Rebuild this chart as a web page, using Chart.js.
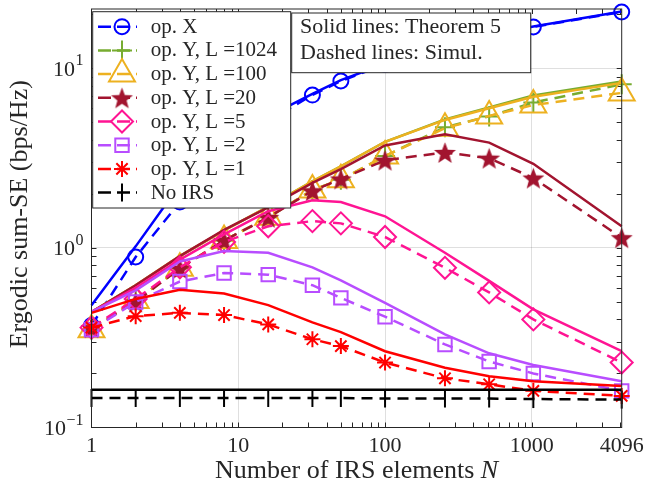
<!DOCTYPE html>
<html>
<head>
<meta charset="utf-8">
<script src="https://cdn.jsdelivr.net/npm/chart.js@4.4.1/dist/chart.umd.min.js"></script>
<style>
  html, body { margin: 0; padding: 0; background: #fff; }
</style>
</head>
<body>
<canvas id="sumSE" width="645" height="493"></canvas>
<script>
// Number of IRS elements N (x axis)
const irsElements = [1, 2, 4, 8, 16, 32, 50, 100, 256, 512, 1024, 4096];

// Solid lines: Theorem 5
const opXTheory   = [0.48, 1.02, 2.25, 3.8, 5.4, 7.2, 8.6, 10.6, 13.4, 15.3, 17.1, 20.7];
const l1024Theory = [0.44, 0.62, 0.9, 1.25, 1.7, 2.35, 2.85, 3.9, 5.2, 6.05, 7.05, 8.45];
const l100Theory  = [0.44, 0.62, 0.9, 1.25, 1.7, 2.35, 2.85, 3.9, 5.16, 6.0, 6.95, 8.3];
const l20Theory   = [0.44, 0.62, 0.9, 1.26, 1.68, 2.3, 2.75, 3.72, 4.3, 3.86, 2.94, 1.32];
const l5Theory    = [0.44, 0.6, 0.86, 1.19, 1.6, 1.84, 1.8, 1.5, 0.94, 0.655, 0.455, 0.266];
const l2Theory    = [0.44, 0.58, 0.84, 0.96, 0.94, 0.78, 0.66, 0.495, 0.33, 0.259, 0.223, 0.181];
const l1Theory    = [0.435, 0.52, 0.585, 0.557, 0.48, 0.385, 0.34, 0.266, 0.215, 0.193, 0.181, 0.17];
const noIrsTheory = [0.162, 0.162, 0.162, 0.162, 0.162, 0.162, 0.162, 0.162, 0.162, 0.162, 0.162, 0.162];

// Dashed lines: simulation
const opXSim   = [0.37, 0.89, 1.8, 3.4, 5.1, 7.1, 8.5, 10.5, 13.3, 15.2, 17.0, 20.6];
const l1024Sim = [0.35, 0.51, 0.77, 1.1, 1.48, 2.1, 2.4, 3.25, 4.7, 5.4, 6.45, 8.15];
const l100Sim  = [0.35, 0.51, 0.77, 1.1, 1.48, 2.1, 2.4, 3.25, 4.64, 5.43, 6.25, 7.3];
const l20Sim   = [0.36, 0.5, 0.77, 1.1, 1.48, 2.08, 2.42, 3.08, 3.4, 3.16, 2.45, 1.14];
const l5Sim    = [0.36, 0.52, 0.78, 1.08, 1.32, 1.41, 1.37, 1.15, 0.775, 0.565, 0.4, 0.23];
const l2Sim    = [0.35, 0.5, 0.65, 0.725, 0.71, 0.62, 0.527, 0.414, 0.29, 0.233, 0.2, 0.16];
const l1Sim    = [0.36, 0.417, 0.435, 0.423, 0.375, 0.31, 0.284, 0.23, 0.188, 0.174, 0.16, 0.15];
const noIrsSim = [0.146, 0.146, 0.146, 0.146, 0.146, 0.146, 0.146, 0.145, 0.145, 0.145, 0.144, 0.143];

const seriesLabels = ['op. X', 'op. Y, L =1024', 'op. Y, L =100', 'op. Y, L =20',
                      'op. Y, L =5', 'op. Y, L =2', 'op. Y, L =1', 'No IRS'];
const theoryValues = [opXTheory, l1024Theory, l100Theory, l20Theory, l5Theory, l2Theory, l1Theory, noIrsTheory];
const simValues    = [opXSim, l1024Sim, l100Sim, l20Sim, l5Sim, l2Sim, l1Sim, noIrsSim];

// Tick labels
const xTickValues = [1, 10, 100, 1000, 4096];
const yTickValues = [0.1, 1, 10];
const yTickExponents = ['\u22121', '0', '1'];

const FONT = "'Liberation Serif', 'Times New Roman', serif";
const AXIS = '#262626';
const GRID = 'rgba(38,38,38,0.15)';
const Y_MAX = 21.4;
const TICK = 5;

// filled five-point star marker (MATLAB pentagram)
function pentagram(r, color) {
    const c = document.createElement('canvas');
    const s = Math.ceil(2 * r + 4);
    c.width = c.height = s;
    const g = c.getContext('2d');
    g.translate(s / 2, s / 2 + r * 0.1);
    g.beginPath();
    for (let i = 0; i < 10; i++) {
        const rr = i % 2 ? r * 0.42 : r;
        const a = -Math.PI / 2 + i * Math.PI / 5;
        g.lineTo(rr * Math.cos(a), rr * Math.sin(a));
    }
    g.closePath();
    g.fillStyle = color;
    g.fill();
    return c;
}

// one style per series: colour and marker
const seriesStyles = [
    { color: '#0000FF', pointStyle: 'circle', radius: 7.5 },
    { color: '#77AC30', pointStyle: 'cross', radius: 10 },
    { color: '#EDB120', pointStyle: 'triangle', radius: 15 },
    { color: '#A2142F', pointStyle: pentagram(11.5, '#A2142F'), radius: 11 },
    { color: '#FF1493', pointStyle: 'rectRot', radius: 11 },
    { color: '#B84DFF', pointStyle: 'rect', radius: 9.5 },
    { color: '#FF0000', pointStyle: 'star', radius: 8 },
    { color: '#000000', pointStyle: 'line', radius: 9, rotation: 90 }
];

const datasets = [];
const total = seriesLabels.length * 2;
seriesLabels.forEach((label, i) => {
    const st = seriesStyles[i];
    datasets.push({
        label: label + ' (Theorem 5)',
        data: irsElements.map((n, k) => ({ x: n, y: theoryValues[i][k] })),
        borderColor: st.color,
        borderWidth: 2.5,
        pointRadius: 0,
        tension: 0,
        fill: false,
        clip: false,
        order: total - 2 * i
    });
    datasets.push({
        label: label + ' (Simul.)',
        data: irsElements.map((n, k) => ({ x: n, y: simValues[i][k] })),
        borderColor: st.color,
        borderWidth: 2.5,
        borderDash: [11, 7],
        pointStyle: st.pointStyle,
        pointRadius: st.radius,
        pointRotation: st.rotation || 0,
        pointBorderWidth: 2,
        pointBorderColor: st.color,
        pointBackgroundColor: 'rgba(0,0,0,0)',
        tension: 0,
        fill: false,
        clip: false,
        order: total - 2 * i - 1
    });
});

// tick mark positions for log axes (1..9 in every decade)
function logMarks(min, max) {
    const out = [];
    for (let d = Math.pow(10, Math.floor(Math.log10(min))); d <= max; d *= 10) {
        for (let k = 1; k < 10; k++) {
            const v = +(k * d).toPrecision(4);
            if (v > min && v < max) out.push(v);
        }
    }
    return out;
}

const framePlugin = {
    id: 'frame',
    beforeDatasetsDraw(chart) {
        const { ctx, chartArea: a, scales: { x, y } } = chart;
        ctx.save();
        ctx.strokeStyle = AXIS;
        ctx.lineWidth = 1;
        ctx.beginPath();
        logMarks(1, 4096).forEach(v => {
            const px = Math.round(x.getPixelForValue(v)) + 0.5;
            ctx.moveTo(px, a.bottom); ctx.lineTo(px, a.bottom - TICK);
            ctx.moveTo(px, a.top); ctx.lineTo(px, a.top + TICK);
        });
        logMarks(0.1, Y_MAX).forEach(v => {
            const py = Math.round(y.getPixelForValue(v)) + 0.5;
            ctx.moveTo(a.left, py); ctx.lineTo(a.left + TICK, py);
            ctx.moveTo(a.right, py); ctx.lineTo(a.right - TICK, py);
        });
        ctx.stroke();
        ctx.restore();
    },
    afterDraw(chart) {
        const { ctx, chartArea: a, scales: { y } } = chart;
        const H = Chart.helpers;
        ctx.save();

        // axes box
        ctx.strokeStyle = AXIS;
        ctx.lineWidth = 1;
        ctx.strokeRect(a.left, a.top, a.right - a.left, a.bottom - a.top);

        // y tick labels 10^k
        ctx.fillStyle = AXIS;
        ctx.textAlign = 'right';
        ctx.textBaseline = 'alphabetic';
        yTickValues.forEach((v, i) => {
            const py = y.getPixelForValue(v);
            const e = yTickExponents[i];
            ctx.font = '16px ' + FONT;
            ctx.fillText(e, a.left - 8, py - 3);
            const w = ctx.measureText(e).width;
            ctx.font = '22px ' + FONT;
            ctx.fillText('10', a.left - 8.5 - w, py + 7.5);
        });

        // x axis title with italic N
        const t1 = 'Number of IRS elements ', t2 = 'N';
        ctx.font = '26px ' + FONT;
        const w1 = ctx.measureText(t1).width;
        ctx.font = 'italic 26px ' + FONT;
        const w2 = ctx.measureText(t2).width;
        const x0 = (a.left + a.right) / 2 - (w1 + w2) / 2;
        ctx.textAlign = 'left';
        ctx.font = '26px ' + FONT;
        ctx.fillText(t1, x0, 478);
        ctx.font = 'italic 26px ' + FONT;
        ctx.fillText(t2, x0 + w1, 478);

        // y axis title
        ctx.save();
        ctx.translate(27, (a.top + a.bottom) / 2 - 4);
        ctx.rotate(-Math.PI / 2);
        ctx.textAlign = 'center';
        ctx.font = '26px ' + FONT;
        ctx.fillText('Ergodic sum-SE (bps/Hz)', 0, 0);
        ctx.restore();

        // legend
        const lx = 92.7, ly = 11.7, lw = 198, lh = 196.3, row = 23.7;
        ctx.fillStyle = '#fff';
        ctx.fillRect(lx, ly, lw, lh);
        ctx.strokeStyle = AXIS;
        ctx.lineWidth = 1;
        ctx.strokeRect(lx, ly, lw, lh);
        seriesLabels.forEach((label, i) => {
            const st = seriesStyles[i];
            const cy = 26.7 + i * row;
            ctx.strokeStyle = st.color;
            ctx.lineWidth = 2.5;
            ctx.setLineDash([13, 6]);
            ctx.beginPath();
            ctx.moveTo(98, cy);
            ctx.lineTo(137, cy);
            ctx.stroke();
            ctx.setLineDash([]);
            ctx.lineWidth = 2;
            ctx.fillStyle = 'rgba(0,0,0,0)';
            H.drawPoint(ctx, {
                pointStyle: st.pointStyle,
                radius: st.radius,
                rotation: st.rotation || 0,
                borderWidth: 2
            }, 122, cy);
            ctx.fillStyle = AXIS;
            ctx.font = '21px ' + FONT;
            ctx.textAlign = 'left';
            ctx.fillText(label, 150.7, cy + 6);
        });

        // note box
        ctx.fillStyle = '#fff';
        ctx.fillRect(291.7, 13, 239, 59.7);
        ctx.strokeStyle = AXIS;
        ctx.lineWidth = 1;
        ctx.strokeRect(291.7, 13, 239, 59.7);
        ctx.fillStyle = AXIS;
        ctx.font = '22px ' + FONT;
        ctx.fillText('Solid lines: Theorem 5', 300, 33.3);
        ctx.fillText('Dashed lines: Simul.', 300, 59.3);

        ctx.restore();
    }
};

new Chart(document.getElementById('sumSE'), {
    type: 'line',
    data: { datasets },
    options: {
        responsive: false,
        animation: false,
        devicePixelRatio: 1,
        events: [],
        layout: { autoPadding: false, padding: { top: 9, right: 23.3, left: 0, bottom: 0 } },
        plugins: { legend: { display: false }, tooltip: { enabled: false } },
        scales: {
            x: {
                type: 'logarithmic',
                min: 1,
                max: 4096,
                afterBuildTicks: s => { s.ticks = xTickValues.map(v => ({ value: v })); },
                afterFit: s => { s.height = 65.5; s.paddingLeft = 0; s.paddingRight = 0; },
                ticks: {
                    callback: v => String(v),
                    autoSkip: false,
                    maxRotation: 0,
                    padding: 8,
                    color: AXIS,
                    font: { family: FONT, size: 22, lineHeight: 1 }
                },
                grid: {
                    drawTicks: false,
                    color: c => (c.tick && c.tick.value > 1 && c.tick.value < 4096) ? GRID : 'rgba(0,0,0,0)'
                },
                border: { display: false }
            },
            y: {
                type: 'logarithmic',
                min: 0.1,
                max: Y_MAX,
                afterBuildTicks: s => { s.ticks = yTickValues.map(v => ({ value: v })); },
                afterFit: s => { s.width = 91.5; s.paddingTop = 0; s.paddingBottom = 0; },
                ticks: { display: false },
                grid: {
                    drawTicks: false,
                    color: c => (c.tick && c.tick.value > 0.1) ? GRID : 'rgba(0,0,0,0)'
                },
                border: { display: false }
            }
        }
    },
    plugins: [framePlugin]
});
</script>
</body>
</html>
